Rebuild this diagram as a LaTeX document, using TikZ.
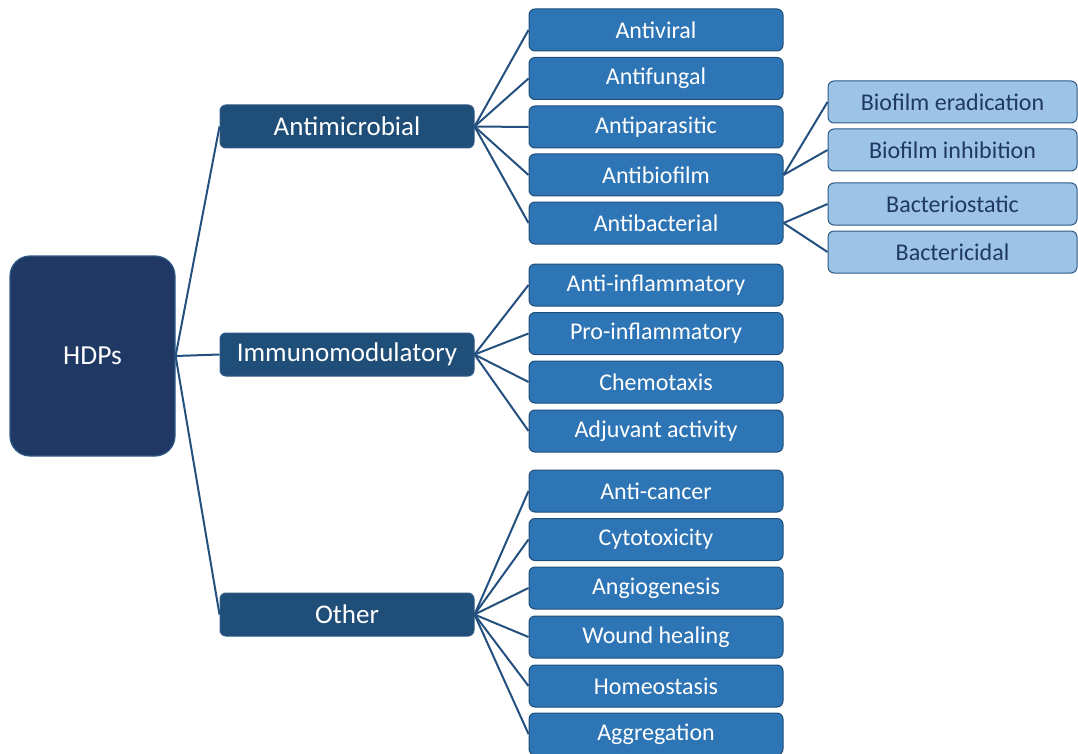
\documentclass[tikz,border=0pt]{standalone}
\usepackage{fontspec}
\setmainfont{Carlito}
\definecolor{navy}{HTML}{203864}
\definecolor{lone}{HTML}{1F4E79}
\definecolor{ltwo}{HTML}{2E75B6}
\definecolor{lthree}{HTML}{9DC3E6}
\definecolor{bord}{HTML}{2E5A85}
\definecolor{txtdark}{HTML}{1F3864}
\definecolor{edgec}{HTML}{23507E}
\tikzset{
  rootbox/.style={draw=bord, line width=1.2pt, fill=navy, rounded corners=20pt, minimum width=165pt, minimum height=200pt, text=white, font=\fontsize{27.5}{32}\selectfont, inner sep=0pt},
  onebox/.style={draw=bord, line width=1pt, fill=lone, rounded corners=6pt, minimum width=254pt, minimum height=43pt, text=white, font=\fontsize{27}{32}\selectfont, inner sep=0pt},
  twobox/.style={draw=lone, line width=1pt, fill=ltwo, rounded corners=6pt, minimum width=254pt, minimum height=42pt, text=white, font=\fontsize{24}{28}\selectfont, inner sep=0pt},
  threebox/.style={draw=bord, line width=1pt, fill=lthree, rounded corners=6pt, minimum width=249pt, minimum height=42pt, text=txtdark, font=\fontsize{24}{28}\selectfont, inner sep=0pt},
  link/.style={draw=edgec, line width=2pt}
}
\begin{document}
\begin{tikzpicture}[x=1pt,y=-1pt]
\useasboundingbox (0,0) rectangle (1078,754);
\node[rootbox] (hdp) at (92.5,356) {HDPs};
\node[onebox] (am) at (347,126.5) {Antimicrobial};
\node[onebox] (im) at (347,354.5) {Immunomodulatory};
\node[onebox] (ot) at (347,614.5) {Other};
\node[twobox] (a1) at (656,30) {Antiviral};
\node[twobox] (a2) at (656,78.5) {Antifungal};
\node[twobox] (a3) at (656,127) {Antiparasitic};
\node[twobox] (a4) at (656,175) {Antibiofilm};
\node[twobox] (a5) at (656,223) {Antibacterial};
\node[twobox] (i1) at (656,285) {Anti-inflammatory};
\node[twobox] (i2) at (656,333.5) {Pro-inflammatory};
\node[twobox] (i3) at (656,382) {Chemotaxis};
\node[twobox] (i4) at (656,431) {Adjuvant activity};
\node[twobox] (o1) at (656,491) {Anti-cancer};
\node[twobox] (o2) at (656,539.5) {Cytotoxicity};
\node[twobox] (o3) at (656,588) {Angiogenesis};
\node[twobox] (o4) at (656,637) {Wound healing};
\node[twobox] (o5) at (656,686) {Homeostasis};
\node[twobox] (o6) at (656,734) {Aggregation};
\node[threebox] (b1) at (952.5,102) {Biofilm eradication};
\node[threebox] (b2) at (952.5,150) {Biofilm inhibition};
\node[threebox] (b3) at (952.5,204) {Bacteriostatic};
\node[threebox] (b4) at (952.5,252) {Bactericidal};
\foreach \t in {am,im,ot} \draw[link] (hdp.east) -- (\t.west);
\foreach \t in {a1,a2,a3,a4,a5} \draw[link] (am.east) -- (\t.west);
\foreach \t in {i1,i2,i3,i4} \draw[link] (im.east) -- (\t.west);
\foreach \t in {o1,o2,o3,o4,o5,o6} \draw[link] (ot.east) -- (\t.west);
\foreach \t in {b1,b2} \draw[link] (a4.east) -- (\t.west);
\foreach \t in {b3,b4} \draw[link] (a5.east) -- (\t.west);
\end{tikzpicture}
\end{document}
